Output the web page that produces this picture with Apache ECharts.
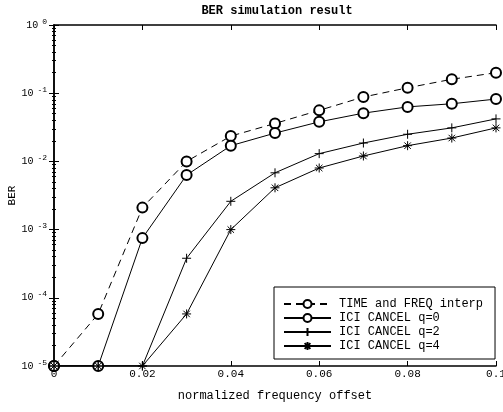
<!DOCTYPE html>
<html>
<head>
<meta charset="utf-8">
<script src="https://cdn.jsdelivr.net/npm/echarts@6/dist/echarts.min.js"></script>
<style>
  html, body { margin: 0; padding: 0; background: #fff; }
  #ber { width: 503px; height: 412px; }
</style>
</head>
<body>
<div id="ber"></div>
<script>
// normalized frequency offset
var offsets = [0, 0.01, 0.02, 0.03, 0.04, 0.05, 0.06, 0.07, 0.08, 0.09, 0.1];
// BER values (1e-5 = floor of the plot)
var timeFreq = [1e-5, 5.8e-5, 2.1e-3, 1.0e-2, 2.35e-2, 3.6e-2, 5.6e-2, 8.8e-2, 0.12, 0.16, 0.2];
var iciQ0 = [1e-5, 1e-5, 7.5e-4, 6.3e-3, 1.7e-2, 2.6e-2, 3.8e-2, 5.1e-2, 6.3e-2, 7.0e-2, 8.2e-2];
var iciQ2 = [1e-5, 1e-5, 1e-5, 3.8e-4, 2.6e-3, 6.8e-3, 1.3e-2, 1.86e-2, 2.5e-2, 3.1e-2, 4.2e-2];
var iciQ4 = [1e-5, 1e-5, 1e-5, 5.8e-5, 1.0e-3, 4.1e-3, 8.0e-3, 1.2e-2, 1.7e-2, 2.2e-2, 3.1e-2];
var seriesNames = ['TIME and FREQ interp', 'ICI CANCEL q=0', 'ICI CANCEL q=2', 'ICI CANCEL q=4'];

var mono = 'Liberation Mono';
var plusPath = 'path://M0,-5L0,5M-5,0L5,0';
var starPath = 'path://M0,-5L0,5M-5,0L5,0M-3.6,-3.6L3.6,3.6M-3.6,3.6L3.6,-3.6';

function pairs(ys) {
    return offsets.map(function (x, i) { return [x, ys[i]]; });
}

function makeSeries(name, ys, symbol, size, dashed) {
    return {
        name: name,
        type: 'line',
        data: pairs(ys),
        symbol: symbol,
        symbolSize: size,
        showAllSymbol: true,
        lineStyle: { color: '#000', width: 1, type: dashed ? [7, 5] : 'solid' },
        itemStyle: { color: '#000', borderColor: '#000', borderWidth: 1 },
        emphasis: { disabled: true }
    };
}

var myChart = echarts.init(document.getElementById('ber'));
var option = {
    animation: false,
    backgroundColor: '#fff',
    title: {
        text: 'BER simulation result',
        left: 272,
        textAlign: 'center',
        top: 0,
        textStyle: { fontFamily: mono, fontSize: 12, fontWeight: 'bold', color: '#000' }
    },
    grid: { left: 54, right: 7, top: 25, bottom: 46, outerBoundsMode: 'none' },
    legend: {
        orient: 'vertical',
        left: 274,
        top: 287,
        padding: [11, 12, 7, 9],
        itemWidth: 47,
        itemHeight: 10,
        itemGap: 2,
        backgroundColor: '#fff',
        borderColor: '#000',
        borderWidth: 1,
        borderRadius: 0,
        textStyle: { fontFamily: mono, fontSize: 12, color: '#000', padding: [0, 0, 0, 3] },
        data: seriesNames
    },
    xAxis: [{
        type: 'value',
        min: 0,
        max: 0.1,
        interval: 0.02,
        name: 'normalized frequency offset',
        nameLocation: 'middle',
        nameGap: 24,
        nameMoveOverlap: false,
        nameTextStyle: { fontFamily: mono, fontSize: 12, color: '#000' },
        axisLine: { lineStyle: { color: '#000', width: 1.5 } },
        axisTick: { inside: true, length: 5, lineStyle: { color: '#000' } },
        axisLabel: {
            fontFamily: mono, fontSize: 11, color: '#000', margin: 3,
            formatter: function (v) { return String(+v.toFixed(2)); }
        },
        splitLine: { show: false }
    }, {
        type: 'value',
        position: 'top',
        min: 0,
        max: 0.1,
        interval: 0.02,
        axisLine: { lineStyle: { color: '#000', width: 1.5 } },
        axisTick: { inside: true, length: 5, lineStyle: { color: '#000' } },
        axisLabel: { show: false },
        splitLine: { show: false }
    }],
    yAxis: [{
        type: 'log',
        logBase: 10,
        min: 1e-5,
        max: 1,
        name: 'BER',
        nameLocation: 'middle',
        nameGap: 36,
        nameMoveOverlap: false,
        nameTextStyle: { fontFamily: mono, fontSize: 11, color: '#000' },
        axisLine: { lineStyle: { color: '#000', width: 1.5 } },
        axisTick: { inside: true, length: 5, lineStyle: { color: '#000' } },
        minorTick: { show: true, splitNumber: 9, length: 2, lineStyle: { color: '#000' } },
        axisLabel: {
            color: '#000', margin: 7,
            formatter: function (v) {
                var e = Math.round(Math.log10(v));
                return '{b|10}{s|' + e + '}';
            },
            rich: {
                b: { fontFamily: mono, fontSize: 10, color: '#000' },
                s: { fontFamily: mono, fontSize: 8, color: '#000', verticalAlign: 'top', padding: [0, 0, 7, 4] }
            }
        },
        splitLine: { show: false }
    }, {
        type: 'log',
        logBase: 10,
        min: 1e-5,
        max: 1,
        position: 'right',
        axisLine: { lineStyle: { color: '#000', width: 1.5 } },
        axisTick: { inside: true, length: 5, lineStyle: { color: '#000' } },
        minorTick: { show: true, splitNumber: 9, length: 2, lineStyle: { color: '#000' } },
        axisLabel: { show: false },
        splitLine: { show: false }
    }],
    series: [
        makeSeries(seriesNames[0], timeFreq, 'emptyCircle', 10, true),
        makeSeries(seriesNames[1], iciQ0, 'emptyCircle', 10, false),
        makeSeries(seriesNames[2], iciQ2, plusPath, 9, false),
        makeSeries(seriesNames[3], iciQ4, starPath, 9, false)
    ]
};
myChart.setOption(option);
window.addEventListener('resize', function () {
    myChart.resize();
});
</script>
</body>
</html>
